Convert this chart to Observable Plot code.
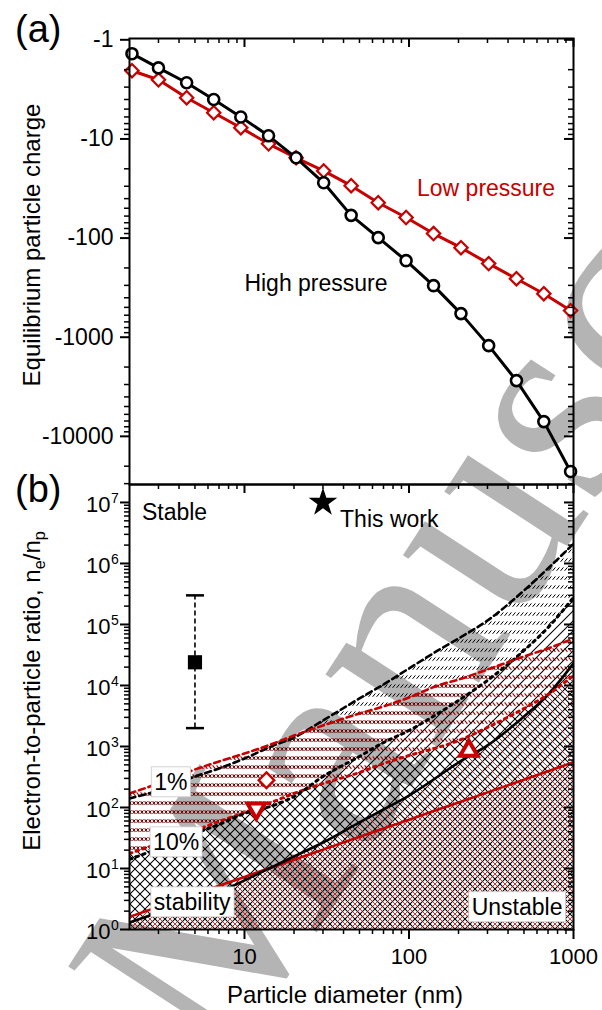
<!DOCTYPE html>
<html>
<head>
<meta charset="utf-8">
<script src="https://cdn.jsdelivr.net/npm/d3@7"></script>
<script src="https://cdn.jsdelivr.net/npm/@observablehq/plot@0.6"></script>
<style>
html,body{margin:0;padding:0;background:#fff;}
body{width:602px;height:1010px;position:relative;overflow:hidden;font-family:"Liberation Sans",Arial,sans-serif;color:#000;}
.abs{position:absolute;white-space:nowrap;line-height:1;}
#wm{position:absolute;left:20px;top:945px;transform-origin:0 0;transform:rotate(-57deg);font:290px "Liberation Serif","Times New Roman",serif;color:#b4b4b4;white-space:nowrap;line-height:1;}
#panelA{position:absolute;left:0;top:0;}
#panelB{position:absolute;left:0;top:484px;}
.ylab{position:absolute;font-size:24px;white-space:nowrap;line-height:1;transform:translate(-50%,-50%) rotate(-90deg);}
sub{font-size:0.68em;vertical-align:-0.28em;line-height:0;}
</style>
</head>
<body>
<div id="wm">Manuscript</div>
<div id="panelA"></div>
<div id="panelB"></div>
<div class="abs" style="left:15px;top:10px;font-size:38px;">(a)</div>
<div class="abs" style="left:15px;top:470px;font-size:38px;">(b)</div>
<div class="ylab" style="left:32px;top:245px;">Equilibrium particle charge</div>
<div class="ylab" style="left:32px;top:691px;">Electron-to-particle ratio, n<sub>e</sub>/n<sub>p</sub></div>
<div class="abs" style="left:345px;top:995px;font-size:24px;transform:translate(-50%,-50%);">Particle diameter (nm)</div>
<script>
// ---------------- Panel (a) data ----------------
const diameterA = [2.07, 3.0, 4.45, 6.5, 9.5, 14, 20.6, 30.3, 44.5, 65, 96, 141, 207, 305, 450, 660, 960];
const chargeHigh = [-1.38, -1.92, -2.71, -4.0, -6.0, -9.3, -15.5, -27.7, -59, -99, -169, -302, -578, -1216, -2740, -7100, -22600];
const chargeLow = [-2.05, -2.53, -3.84, -5.44, -7.7, -11.2, -15.5, -21, -29.6, -44, -62, -90, -125, -181, -257, -364, -539];
const labelTextA = ["Low pressure", "High pressure"];
const labelXA = [294, 27.2];
const labelYA = [-31.8, -288];

// ---------------- Panel (b) data ----------------
const diameterB = [2, 3, 5, 7, 10, 15, 20, 30, 50, 70, 100, 150, 200, 300, 500, 700, 1000];
const high1pct  = [141, 190, 322, 436, 635, 1040, 1400, 2670, 6120, 10400, 19000, 37500, 59000, 116000, 360000, 830000, 2100000];
const low1pct   = [170, 247, 420, 568, 768, 1120, 1510, 2210, 3470, 4530, 6360, 10000, 12500, 18300, 29900, 40500, 59000];
const high10pct = [14.1, 21.3, 37.5, 52.6, 79.8, 108, 151, 322, 686, 1160, 1830, 3470, 5680, 12100, 37500, 89000, 277000];
const low10pct  = [17.6, 25.7, 42, 58.9, 82.8, 125, 170, 247, 375, 526, 711, 964, 1250, 2050, 4200, 7100, 14600];
const highStab  = [1.30, 1.90, 3.00, 4.10, 6.4, 10.8, 15.7, 26.7, 56.8, 92.7, 157, 322, 547, 1040, 3100, 7100, 23000];
const lowStab   = [1.61, 2.36, 3.80, 5.2, 7.28, 10.7, 13.9, 20.4, 33, 45.3, 63, 92.5, 121, 177, 286, 392, 553];

const thisWorkX = [30], thisWorkY = [1e7];
const prevX = [5], prevY = [2.4e4], prevLo = [2000], prevHi = [3e5];
const diamondX = [13.6], diamondY = [280];
const triDownX = [11.8], triDownY = [96];
const triUpX = [231], triUpY = [850];

const plainText = ["Stable", "This work"];
const plainX = [2.38, 38.1];
const plainY = [6.9e6, 5.3e6];
const boxLabels = ["1%", "10%", "stability", "Unstable"];
const boxX = [3.57, 3.84, 4.81, 454];
const boxY = [257, 26.7, 2.77, 2.3];

// ---------------- ticks ----------------
const xMajor = [10, 100, 1000];
const xMajorLabels = ["10", "100", "1000"];
const xMinor = [3, 4, 5, 6, 7, 8, 9, 20, 30, 40, 50, 60, 70, 80, 90, 200, 300, 400, 500, 600, 700, 800, 900];
const yMajorA = [-1, -10, -100, -1000, -10000];
const yMajorALabels = ["-1", "-10", "-100", "-1000", "-10000"];
const yMinorA = [1, 10, 100, 1000].flatMap(p => [2,3,4,5,6,7,8,9].map(m => -m * p)).concat([-20000, -30000]);
const yMajorB = [1, 10, 100, 1000, 1e4, 1e5, 1e6, 1e7];
const yExpB = ["0", "1", "2", "3", "4", "5", "6", "7"];
const yMinorB = [1, 10, 100, 1000, 1e4, 1e5, 1e6].flatMap(p => [2,3,4,5,6,7,8,9].map(m => m * p));

// ---------------- styling ----------------
const font = "'Liberation Sans', Arial, Helvetica, sans-serif";
const RED = "#c80000";
const common = {
  width: 602, marginLeft: 129, marginRight: 29,
  x: {type: "log", domain: [2, 1000]},
  style: {fontFamily: font, background: "transparent", overflow: "visible", color: "#000"}
};
const none = () => "";

function yAxes(major, minor, fmt, withText) {
  return [
    Plot.axisY(major, {anchor: "left", tickSize: 9, tickPadding: 7, strokeWidth: 2, fontSize: 23, tickFormat: withText ? fmt : none, label: null}),
    Plot.axisY(minor, {anchor: "left", tickSize: 5, strokeWidth: 1.5, tickFormat: none, label: null}),
    Plot.axisY(major, {anchor: "left", frameAnchor: "right", tickSize: 9, strokeWidth: 2, tickFormat: none, label: null}),
    Plot.axisY(minor, {anchor: "left", frameAnchor: "right", tickSize: 5, strokeWidth: 1.5, tickFormat: none, label: null})
  ];
}
function topAxes() {
  return [
    Plot.axisX(xMajor, {anchor: "bottom", frameAnchor: "top", tickSize: 9, strokeWidth: 2, tickFormat: none, label: null}),
    Plot.axisX(xMinor, {anchor: "bottom", frameAnchor: "top", tickSize: 5, strokeWidth: 1.5, tickFormat: none, label: null})
  ];
}

// ---------------- Panel (a) ----------------
const rowsA = diameterA.map((d, i) => ({d, high: chargeHigh[i], low: chargeLow[i]}));
const labA = labelTextA.map((t, i) => ({t, x: labelXA[i], y: labelYA[i]}));
const plotA = Plot.plot({
  ...common, height: 484, marginTop: 38, marginBottom: 0,
  y: {type: "log", domain: [-30600, -0.97]},
  marks: [
    Plot.line(rowsA, {x: "d", y: "low", stroke: RED, strokeWidth: 3}),
    Plot.line(rowsA, {x: "d", y: "high", stroke: "#000", strokeWidth: 3}),
    Plot.dot(rowsA, {x: "d", y: "low", symbol: "diamond2", r: 6, stroke: RED, strokeWidth: 2.2, fill: "#fff"}),
    Plot.dot(rowsA, {x: "d", y: "high", symbol: "circle", r: 5.5, stroke: "#000", strokeWidth: 2.6, fill: "#fff"}),
    Plot.text(labA, {x: "x", y: "y", text: "t", fontSize: 23, fill: (d, i) => i === 0 ? RED : "#000"}),
    Plot.frame({strokeWidth: 2}),
    ...yAxes(yMajorA, yMinorA, d => yMajorALabels[yMajorA.indexOf(d)], true),
    ...topAxes()
  ]
});
document.getElementById("panelA").append(plotA);

// ---------------- Panel (b) ----------------
const rowsB = diameterB.map((d, i) => ({
  d, h1: high1pct[i], l1: low1pct[i], h10: high10pct[i], l10: low10pct[i], hs: highStab[i], ls: lowStab[i]
}));
const prev = prevX.map((x, i) => ({x, y: prevY[i], lo: prevLo[i], hi: prevHi[i]}));
const plain = plainText.map((t, i) => ({t, x: plainX[i], y: plainY[i]}));
const boxed = boxLabels.map((t, i) => ({t, x: boxX[i], y: boxY[i]}));
const yTicksB = yMajorB.map((v, i) => ({v, e: yExpB[i]}));
const capSymbol = {draw(ctx) { ctx.moveTo(-9, 0); ctx.lineTo(9, 0); }};
const curve = "monotone-x";
const area = (lo, hi, id) => Plot.areaY(rowsB, {x: "d", y1: lo, y2: hi, fill: `url(#${id})`, curve, clip: true});
const dash = "6,4", dot = "2.5,4.5";

const plotB = Plot.plot({
  ...common, height: 526, marginTop: 0, marginBottom: 81,
  y: {type: "log", domain: [1, 1.97e7]},
  marks: [
    area("h10", "h1", "hiBand"),
    area("l10", "l1", "loBand"),
    area(() => 1, "h10", "hiFwd"),
    area(() => 1, "l10", "hiBack"),
    area(() => 1, "hs", "loBack"),
    area(() => 1, "ls", "loFwd"),
    Plot.line(rowsB, {x: "d", y: "ls", stroke: RED, strokeWidth: 2.6, curve, clip: true}),
    Plot.line(rowsB, {x: "d", y: "hs", stroke: "#000", strokeWidth: 2.6, curve, clip: true}),
    Plot.line(rowsB, {x: "d", y: "l10", stroke: RED, strokeWidth: 3, strokeDasharray: dot, curve, clip: true}),
    Plot.line(rowsB, {x: "d", y: "h10", stroke: "#000", strokeWidth: 3, strokeDasharray: dot, curve, clip: true}),
    Plot.line(rowsB, {x: "d", y: "h1", stroke: "#000", strokeWidth: 2.6, strokeDasharray: dash, curve, clip: true}),
    Plot.line(rowsB, {x: "d", y: "l1", stroke: RED, strokeWidth: 2.6, strokeDasharray: dash, curve, clip: true}),
    Plot.ruleX(prev, {x: "x", y1: "lo", y2: "hi", stroke: "#000", strokeWidth: 1.6, strokeDasharray: "5,3"}),
    Plot.dot(prev, {x: "x", y: "lo", symbol: capSymbol, stroke: "#000", strokeWidth: 2.5}),
    Plot.dot(prev, {x: "x", y: "hi", symbol: capSymbol, stroke: "#000", strokeWidth: 2.5}),
    Plot.dot(prev, {x: "x", y: "y", symbol: "square", r: 8, fill: "#000"}),
    Plot.dot(thisWorkX.map((x, i) => ({x, y: thisWorkY[i]})), {x: "x", y: "y", symbol: "star", r: 9, fill: "#000"}),
    Plot.dot(diamondX.map((x, i) => ({x, y: diamondY[i]})), {x: "x", y: "y", symbol: "diamond2", r: 7, stroke: RED, strokeWidth: 2.4, fill: "#fff"}),
    Plot.dot(triDownX.map((x, i) => ({x, y: triDownY[i]})), {x: "x", y: "y", symbol: "triangle", rotate: 180, r: 6.5, stroke: RED, strokeWidth: 4, fill: "#fff"}),
    Plot.dot(triUpX.map((x, i) => ({x, y: triUpY[i]})), {x: "x", y: "y", symbol: "triangle", r: 6.5, stroke: RED, strokeWidth: 4, fill: "#fff"}),
    Plot.text(plain, {x: "x", y: "y", text: "t", textAnchor: "start", fontSize: 23}),
    Plot.text(boxed, {x: "x", y: "y", text: "t", fontSize: 23}),
    Plot.frame({strokeWidth: 2}),
    ...yAxes(yMajorB, yMinorB, none, false),
    Plot.text(yTicksB, {y: "v", frameAnchor: "left", text: () => "10", textAnchor: "end", dx: -19, dy: 2, fontSize: 22}),
    Plot.text(yTicksB, {y: "v", frameAnchor: "left", text: "e", textAnchor: "start", dx: -18.5, dy: -4, fontSize: 14}),
    ...topAxes(),
    Plot.axisX(xMajor, {anchor: "bottom", tickSize: 10, tickPadding: 9, strokeWidth: 2, fontSize: 22, tickFormat: d => xMajorLabels[xMajor.indexOf(d)], label: null}),
    Plot.axisX(xMinor, {anchor: "bottom", tickSize: 5, strokeWidth: 1.5, tickFormat: none, label: null})
  ]
});
document.getElementById("panelB").append(plotB);

// hatch patterns
const defs = d3.select(plotB).insert("defs", ":first-child");
function pattern(id, w, h, d, stroke, sw, ox = 0) {
  defs.append("pattern").attr("id", id).attr("patternUnits", "userSpaceOnUse")
    .attr("x", ox).attr("y", 0).attr("width", w).attr("height", h)
    .append("path").attr("d", d).attr("stroke", stroke).attr("stroke-width", sw).attr("fill", "none");
}
const fwd = "M-1,11 L11,-1 M-1,1 L1,-1 M9,11 L11,9";
const back = "M-1,-1 L11,11 M-1,9 L1,11 M9,-1 L11,1";
pattern("hiBand", 4, 9, "M0.6,5.8 L3.4,2.4", "#000", 1);
pattern("loBand", 4, 9, "M0.6,2.4 L3.4,5.8", "#a00000", 1.1);
pattern("hiFwd", 10, 10, fwd, "#000", 1.05);
pattern("hiBack", 10, 10, back, "#000", 1.05);
pattern("loBack", 10, 10, back, RED, 0.8, 5);
pattern("loFwd", 10, 10, fwd, RED, 0.8, 5);

// white boxes behind boxed labels
d3.select(plotB).selectAll("text").each(function () {
  if (!boxLabels.includes(this.textContent)) return;
  const b = this.getBBox();
  const r = document.createElementNS("http://www.w3.org/2000/svg", "rect");
  r.setAttribute("x", b.x - 3); r.setAttribute("y", b.y - 2);
  r.setAttribute("width", b.width + 6); r.setAttribute("height", b.height + 4);
  r.setAttribute("fill", "#fff"); r.setAttribute("stroke", "#c8c8c8"); r.setAttribute("stroke-width", 0.8);
  const t = this.getAttribute("transform"); if (t) r.setAttribute("transform", t);
  this.parentNode.insertBefore(r, this);
});
</script>
</body>
</html>
